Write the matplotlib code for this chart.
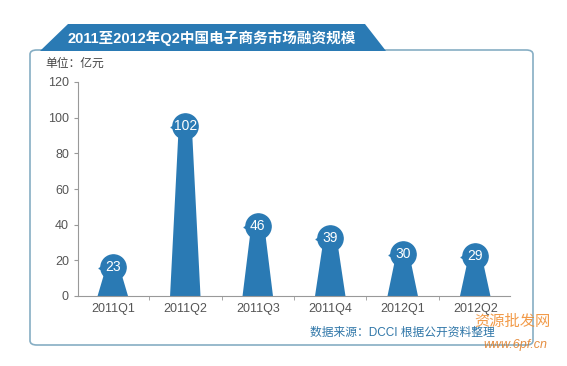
import matplotlib.pyplot as plt
from matplotlib.patches import FancyBboxPatch, Polygon
from matplotlib.transforms import offset_copy

plt.rcParams['font.family'] = ['Liberation Sans', 'Noto Sans CJK SC', 'DejaVu Sans']

# 数据
quarters = ["2011Q1", "2011Q2", "2011Q3", "2011Q4", "2012Q1", "2012Q2"]
amounts = [23, 102, 46, 39, 30, 29]
y_ticks = [0, 20, 40, 60, 80, 100, 120]

blue = "#2a7ab4"
grey = "#555555"

fig = plt.figure(figsize=(5.67, 3.66), dpi=100)

# 外框
frame = FancyBboxPatch((30 / 567, (366 - 345) / 366), 503 / 567, 295 / 366,
                       boxstyle="round,pad=0,rounding_size=0.012",
                       transform=fig.transFigure, facecolor="white",
                       edgecolor="#86aec4", linewidth=1.2, zorder=-2)
fig.patches.append(frame)

# 标题标签
tab = Polygon([(40 / 567, 1 - 51 / 366), (68 / 567, 1 - 24 / 366),
               (365 / 567, 1 - 24 / 366), (386 / 567, 1 - 51 / 366)],
              closed=True, transform=fig.transFigure, facecolor=blue,
              edgecolor="none", zorder=-1)
fig.patches.append(tab)
fig.text(212 / 567, 1 - 38 / 366, "2011至2012年Q2中国电子商务市场融资规模",
         color="white", fontsize=10.5, fontweight="bold", ha="center", va="center")

fig.text(45 / 567, 1 - 64 / 366, "单位：亿元", color="#444444", fontsize=8.5,
         ha="left", va="center")

ax = fig.add_axes([78 / 567, 70 / 366, 432 / 567, 214 / 366])
ax.patch.set_alpha(0)
ax.set_xlim(-0.48, 5.48)
ax.set_ylim(0, 120)
ax.set_yticks(y_ticks)
ax.set_xticks(range(len(quarters)))
ax.set_xticklabels(quarters)
ax.set_xticks([i + 0.5 for i in range(len(quarters) - 1)], minor=True)
ax.tick_params(axis="x", which="major", length=0, pad=5, labelsize=9, labelcolor=grey)
ax.tick_params(axis="x", which="minor", length=3, color="#999999")
ax.tick_params(axis="y", length=3, color="#999999", labelsize=9, labelcolor=grey)
for s in ["top", "right"]:
    ax.spines[s].set_visible(False)
ax.spines["left"].set_color("#999999")
ax.spines["bottom"].set_color("#999999")

offset = 6.5  # 气泡中心略低于数值
for i, v in enumerate(amounts):
    top = v - offset
    cone = Polygon([(i - 0.21, 0), (i - 0.09, top), (i + 0.09, top), (i + 0.21, 0)],
                   closed=True, facecolor=blue, edgecolor="none", zorder=2)
    ax.add_patch(cone)
    ax.scatter([i], [top], s=330, color=blue, zorder=3, clip_on=False)
    tr = offset_copy(ax.transData, fig=fig, x=-8.5, y=-1, units="points")
    ax.scatter([i], [top], s=12, marker="<", color=blue, transform=tr, zorder=3,
               clip_on=False)
    ax.text(i, top, str(v), color="white", fontsize=10, ha="center", va="center",
            zorder=4)

fig.text(402 / 567, 1 - 333 / 366, "数据来源：DCCI 根据公开资料整理", color="#2f76a8",
         fontsize=8.5, ha="center", va="center")
fig.text(512 / 567, 1 - 322 / 366, "资源批发网", color="#f08a2a", fontsize=11,
         ha="center", va="center", alpha=0.85)
fig.text(515 / 567, 1 - 345 / 366, "www.6pf.cn", color="#e07a20", fontsize=9,
         ha="center", va="center", style="italic", alpha=0.85)

fig.savefig("out.png", dpi=100)
